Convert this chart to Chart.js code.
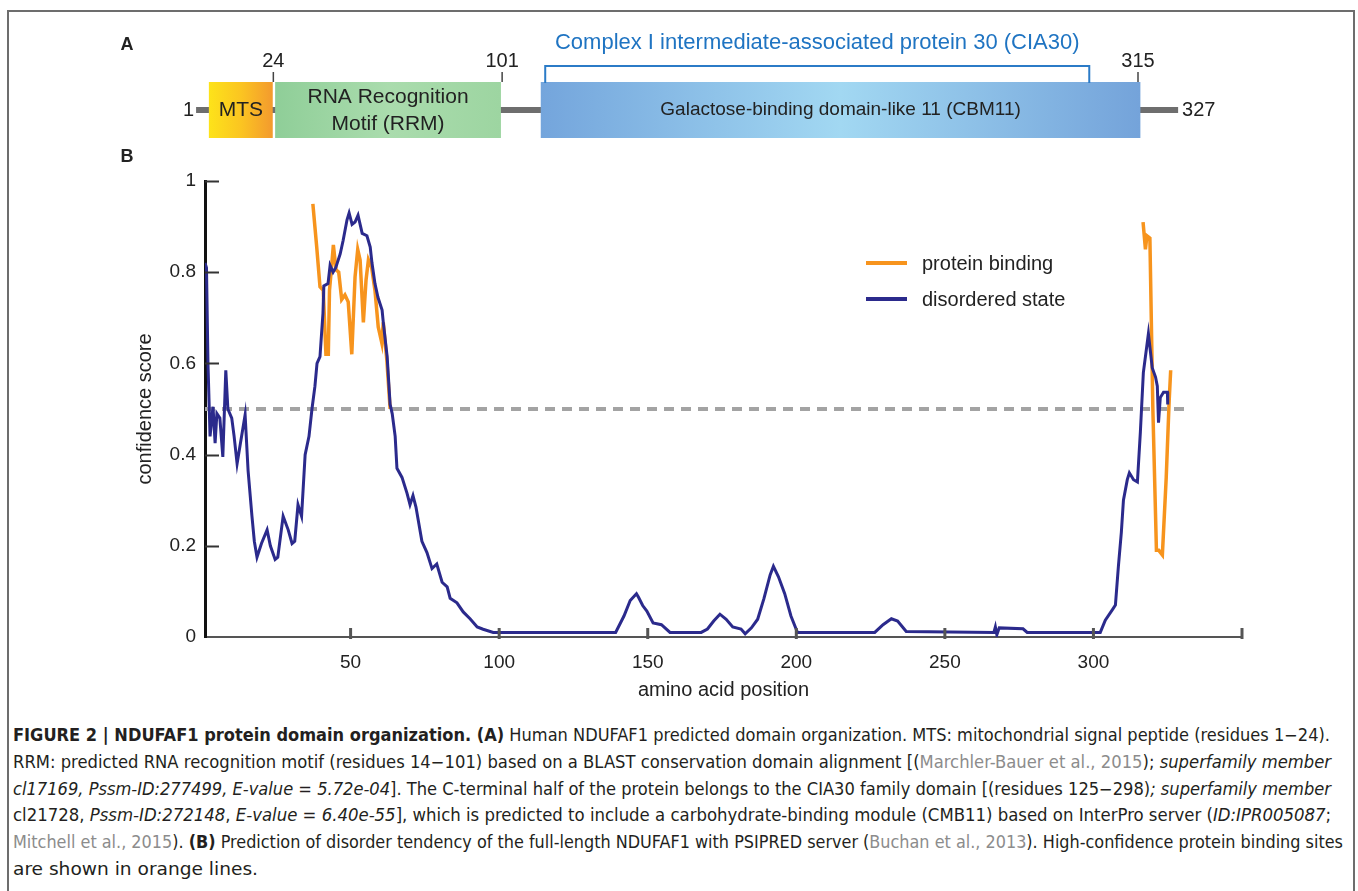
<!DOCTYPE html>
<html>
<head>
<meta charset="utf-8">
<script src="https://cdn.jsdelivr.net/npm/chart.js@4.4.1/dist/chart.umd.min.js"></script>
<style>
  html, body { margin: 0; padding: 0; background: #fff; }
  body { width: 1358px; height: 891px; overflow: hidden; position: relative; font-family: "Liberation Sans", Arial, sans-serif; }
  #frame { position: absolute; left: 7px; top: 10px; width: 1348px; height: 960px; border: 2px solid #6d6d6d; border-bottom: none; box-sizing: border-box; }
  #fig { position: absolute; left: 0; top: 0; }
  #cap { position: absolute; left: 13px; top: 722px; font-family: "DejaVu Sans", "Liberation Sans", sans-serif; font-stretch: condensed; font-size: 17px; line-height: 26.8px; color: #231f20; white-space: nowrap; }
  #cap > div { transform-origin: 0 0; }
  #cap > div > span.ln { display: inline-block; }
  .ref { color: #8c8c8c; }
</style>
</head>
<body>
<div id="frame"></div>
<canvas id="fig" width="1358" height="720"></canvas>
<div id="cap">
  <div><span class="ln"><b>FIGURE 2 | NDUFAF1 protein domain organization. (A)</b> Human NDUFAF1 predicted domain organization. MTS: mitochondrial signal peptide (residues 1&minus;24).</span></div>
  <div><span class="ln">RRM: predicted RNA recognition motif (residues 14&minus;101) based on a BLAST conservation domain alignment [(<span class="ref">Marchler-Bauer et al., 2015</span>); <i>superfamily member</i></span></div>
  <div><span class="ln"><i>cl17169, Pssm-ID:277499, E-value = 5.72e-04</i>]. The C-terminal half of the protein belongs to the CIA30 family domain [(residues 125&minus;298)<i>; superfamily member</i></span></div>
  <div><span class="ln">cl21728, <i>Pssm-ID:272148</i>, <i>E-value = 6.40e-55</i>], which is predicted to include a carbohydrate-binding module (CMB11) based on InterPro server (<i>ID:IPR005087</i>;</span></div>
  <div><span class="ln"><span class="ref">Mitchell et al., 2015</span>). <b>(B)</b> Prediction of disorder tendency of the full-length NDUFAF1 with PSIPRED server (<span class="ref">Buchan et al., 2013</span>). High-confidence protein binding sites</span></div>
  <div><span class="ln">are shown in orange lines.</span></div>
</div>
<script>
/* ── dati: disordine (PSIPRED) e siti di legame ── */
const disorderPos = [
  1, 1.5, 2, 2.7, 3.7, 4.4, 5, 6, 7, 8, 8.7, 10, 10.8, 11.8, 12.8, 14.5, 15.5, 16.8, 17.6, 18.5,
  20, 21.9, 23, 24.6, 25.5, 27.3, 29, 30.3, 31.2, 32.3, 33.5, 34.7, 36, 37, 38, 38.7, 39.7, 40.7, 41, 42.4,
  43.1, 44.1, 45, 46.5, 47.5, 48.8, 49.5, 50.5, 51.5, 52.5, 53.9, 55.5, 56.6, 57.2, 58.2, 59.2, 60.6, 61, 62.3, 63.3,
  64, 65, 65.6, 67.3, 69, 70, 71, 72, 74, 75.7, 77.4, 79, 80.8, 82.5, 83.5, 85.8, 87.9, 90.2, 92.6, 94.6, 98,
  139.2, 142, 144.1, 146.2, 146.9, 148.3, 149.7, 151.8, 154.6, 157.5,
  168, 170.1, 172.2, 174.3, 176.4, 178.6, 181.4, 182.8, 184.9, 187, 189.1, 191.2, 192.3, 194, 196.1, 198.2, 200.4,
  226.4, 229.2, 232, 234.1, 237,
  266.5, 267, 267.5, 268.3, 276.3, 277.7,
  302.3, 304, 306.4, 307.4, 308.4, 309.4, 310.1, 311.4, 312.1, 313.5, 314.8, 315.8, 316.8, 318.5, 319.8, 320.9,
  321.5, 321.9, 322.5, 323.6, 324.9, 325
];
const disorderScore = [
  0.82, 0.81, 0.60, 0.44, 0.505, 0.425, 0.49, 0.48, 0.395, 0.585, 0.50, 0.48, 0.44, 0.38, 0.42, 0.487, 0.365, 0.265, 0.21, 0.175,
  0.205, 0.235, 0.20, 0.17, 0.175, 0.265, 0.235, 0.205, 0.21, 0.29, 0.265, 0.40, 0.44, 0.50, 0.55, 0.60, 0.615, 0.71, 0.77, 0.775,
  0.815, 0.80, 0.81, 0.84, 0.87, 0.915, 0.93, 0.905, 0.91, 0.925, 0.885, 0.88, 0.855, 0.82, 0.775, 0.745, 0.717, 0.69, 0.615, 0.51,
  0.49, 0.44, 0.37, 0.35, 0.315, 0.29, 0.31, 0.285, 0.21, 0.185, 0.15, 0.16, 0.12, 0.11, 0.085, 0.075, 0.055, 0.04, 0.022, 0.017, 0.01,
  0.01, 0.046, 0.08, 0.095, 0.087, 0.069, 0.057, 0.031, 0.027, 0.01,
  0.01, 0.0175, 0.035, 0.05, 0.039, 0.022, 0.0175, 0.007, 0.02, 0.039, 0.084, 0.136, 0.155, 0.132, 0.095, 0.046, 0.01,
  0.01, 0.027, 0.04, 0.035, 0.012,
  0.01, 0.022, 0.005, 0.02, 0.018, 0.01,
  0.01, 0.037, 0.06, 0.07, 0.155, 0.23, 0.30, 0.345, 0.36, 0.345, 0.34, 0.45, 0.58, 0.665, 0.59, 0.57,
  0.55, 0.47, 0.525, 0.537, 0.537, 0.51
];
const bindLeftPos = [37.3, 38.6, 39.7, 40.8, 41.7, 42.5, 42.9, 43.7, 44.2, 45.1, 46, 47, 48.1, 49.2, 50.4, 51.5, 52.4, 53.2, 54.3, 55.2, 56, 57.1, 58.2, 59.3, 60.5, 61, 62.2, 63.3];
const bindLeftScore = [0.95, 0.855, 0.768, 0.76, 0.62, 0.62, 0.76, 0.82, 0.86, 0.805, 0.80, 0.74, 0.75, 0.735, 0.62, 0.79, 0.85, 0.827, 0.69, 0.783, 0.827, 0.81, 0.76, 0.68, 0.645, 0.69, 0.607, 0.50];
const bindRightPos = [316.7, 317.5, 318, 319, 320, 321.2, 322, 323.2, 324.5, 325.5, 326];
const bindRightScore = [0.91, 0.85, 0.88, 0.875, 0.5, 0.19, 0.19, 0.18, 0.35, 0.52, 0.585];
const thresholdPos = [1, 332];
const thresholdScore = [0.5, 0.5];

const xTicks = [50, 100, 150, 200, 250, 300];
const xAxisEnd = 350;
const yTicks = [0, 0.2, 0.4, 0.6, 0.8, 1];

/* ── dati: organizzazione dei domini (pannello A) ── */
const domainNames = [['MTS'], ['RNA Recognition', 'Motif (RRM)'], ['Galactose-binding domain-like 11 (CBM11)']];
const domainStart = [2.3, 24.6, 114];
const domainEnd = [23.8, 100.6, 315.8];
const boundaryPos = [24, 101, 315];
const proteinStart = 1, proteinEnd = 327;
const cia30Range = [115.5, 298.6];
const cia30Label = 'Complex I intermediate-associated protein 30 (CIA30)';

const NAVY = '#2b2a8c', ORANGE = '#f7941d';
const FONT = '"Liberation Sans", Arial, sans-serif';
const DOMAIN_FILLS = [
  ['#fde31a', '#fbc521', '#f39a2e'],
  ['#8fce98', '#aadcad', '#9dd5a1'],
  ['#74a5dc', '#a2d8f2', '#74a3da']
];
// fine riga della didascalia nel riferimento (px dal bordo sinistro del testo)
const CAPTION_WIDTHS = [1317, 1318, 1318, 1318, 1330, 245];

const pts = (xs, ys) => xs.map((x, i) => ({ x, y: ys[i] }));

const figPlugin = {
  id: 'figPlugin',
  afterDraw(chart) {
    const ctx = chart.ctx, xs = chart.scales.x, ys = chart.scales.y;
    const area = chart.chartArea;
    const px = v => xs.getPixelForValue(v);
    ctx.save();

    // tacche interne asse y
    ctx.strokeStyle = '#333'; ctx.lineWidth = 2;
    yTicks.slice(1).forEach(v => {
      const y = Math.round(ys.getPixelForValue(v)) + 0.5;
      ctx.beginPath(); ctx.moveTo(area.left, y); ctx.lineTo(area.left + 14, y); ctx.stroke();
    });
    // tacche asse x
    ctx.strokeStyle = '#555'; ctx.lineWidth = 3;
    xTicks.concat([xAxisEnd]).forEach(v => {
      const x = px(v);
      ctx.beginPath(); ctx.moveTo(x, area.bottom - 9); ctx.lineTo(x, area.bottom + 2); ctx.stroke();
    });

    // legenda
    ctx.font = '20px ' + FONT;
    ctx.textBaseline = 'middle'; ctx.textAlign = 'left'; ctx.fillStyle = '#222';
    [['protein binding', ORANGE, 263], ['disordered state', NAVY, 299]].forEach(([t, c, y]) => {
      ctx.strokeStyle = c; ctx.lineWidth = 4;
      ctx.beginPath(); ctx.moveTo(866, y); ctx.lineTo(907, y); ctx.stroke();
      ctx.fillText(t, 922, y + 1);
    });

    // lettere dei pannelli
    ctx.font = 'bold 18px ' + FONT;
    ctx.textAlign = 'center';
    ctx.fillText('A', 127, 45);
    ctx.fillText('B', 127, 157);

    // pannello A: spina dorsale della proteina
    const bx0 = px(proteinStart - 3), bx1 = px(proteinEnd + 1.5);
    ctx.fillStyle = '#6e6e6e';
    ctx.fillRect(bx0, 107, bx1 - bx0, 6);
    ctx.fillStyle = '#222';
    ctx.font = '20px ' + FONT;
    ctx.textAlign = 'right'; ctx.fillText(String(proteinStart), bx0 - 2, 110);
    ctx.textAlign = 'left'; ctx.fillText(String(proteinEnd), bx1 + 4, 110);

    // domini
    domainStart.forEach((s, i) => {
      const x0 = px(s), x1 = px(domainEnd[i]);
      const g = ctx.createLinearGradient(x0, 0, x1, 0);
      DOMAIN_FILLS[i].forEach((c, j, a) => g.addColorStop(j / (a.length - 1), c));
      ctx.fillStyle = g;
      ctx.fillRect(x0, 82, x1 - x0, 56);
      ctx.fillStyle = '#222';
      ctx.textAlign = 'center';
      ctx.font = (i === 2 ? '19px ' : '21px ') + FONT;
      const lines = domainNames[i];
      const cx = (x0 + x1) / 2;
      if (lines.length === 1) ctx.fillText(lines[0], cx, 110);
      else { ctx.fillText(lines[0], cx, 97); ctx.fillText(lines[1], cx, 124); }
    });

    // confini numerati
    ctx.strokeStyle = '#444'; ctx.lineWidth = 1.5;
    ctx.font = '20px ' + FONT;
    ctx.fillStyle = '#222';
    boundaryPos.forEach(v => {
      const x = px(v);
      ctx.beginPath(); ctx.moveTo(x, 72); ctx.lineTo(x, 82); ctx.stroke();
      ctx.fillText(String(v), x, 61);
    });

    // parentesi CIA30
    const c0 = px(cia30Range[0]), c1 = px(cia30Range[1]);
    ctx.strokeStyle = '#2b7bc7'; ctx.lineWidth = 2;
    ctx.beginPath(); ctx.moveTo(c0, 83); ctx.lineTo(c0, 66); ctx.lineTo(c1, 66); ctx.lineTo(c1, 83); ctx.stroke();
    ctx.fillStyle = '#1f74c2';
    ctx.font = '22px ' + FONT;
    ctx.fillText(cia30Label, (c0 + c1) / 2, 43);
    ctx.restore();
  }
};

new Chart(document.getElementById('fig'), {
  type: 'scatter',
  data: {
    datasets: [
      { data: pts(disorderPos, disorderScore), borderColor: NAVY, borderWidth: 3, order: 1 },
      { data: pts(bindLeftPos, bindLeftScore), borderColor: ORANGE, borderWidth: 3.5, order: 2 },
      { data: pts(bindRightPos, bindRightScore), borderColor: ORANGE, borderWidth: 3.5, order: 2 },
      { data: pts(thresholdPos, thresholdScore), borderColor: '#a3a3a3', borderWidth: 4, borderDash: [10, 7], order: 3 }
    ].map(d => Object.assign(d, { showLine: true, pointRadius: 0, tension: 0, borderJoinStyle: 'miter', fill: false }))
  },
  options: {
    responsive: false, animation: false, devicePixelRatio: 1, events: [],
    layout: { autoPadding: false, padding: { left: 120, right: 116, top: 181, bottom: 0 } },
    plugins: { legend: { display: false }, tooltip: { enabled: false } },
    scales: {
      x: {
        type: 'linear', min: 1, max: xAxisEnd,
        afterFit: s => { s.height = 83; },
        afterBuildTicks: s => { s.ticks = xTicks.map(v => ({ value: v })); },
        grid: { display: false, drawTicks: false },
        border: { display: true, color: '#555', width: 2 },
        ticks: { color: '#222', padding: 14, font: { size: 19, family: FONT } },
        title: { display: true, text: 'amino acid position', color: '#222', padding: { top: 18, bottom: 18 }, font: { size: 20, family: FONT } }
      },
      y: {
        min: 0, max: 1,
        afterFit: s => { s.width = 85; },
        afterBuildTicks: s => { s.ticks = yTicks.map(v => ({ value: v })); },
        grid: { display: false, drawTicks: false },
        border: { display: true, color: '#111', width: 3 },
        ticks: { color: '#222', padding: 9, font: { size: 19, family: FONT }, callback: v => String(Math.round(v * 10) / 10) },
        title: { display: true, text: 'confidence score', color: '#222', padding: { top: 13, bottom: 13 }, font: { size: 20, family: FONT } }
      }
    }
  },
  plugins: [figPlugin]
});

// didascalia: ogni riga compressa per simulare il carattere condensato
document.querySelectorAll('#cap > div').forEach((row, i) => {
  const w = row.querySelector('.ln').getBoundingClientRect().width;
  row.style.transform = 'scaleX(' + (CAPTION_WIDTHS[i] / w).toFixed(4) + ')';
});
</script>
</body>
</html>
